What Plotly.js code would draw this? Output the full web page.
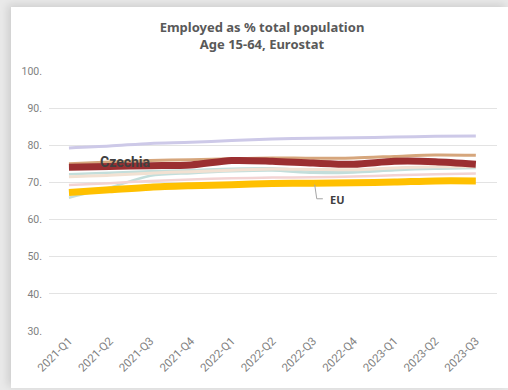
<!DOCTYPE html>
<html><head><meta charset="utf-8">
<script src="https://cdn.plot.ly/plotly-3.0.1.min.js"></script>
<style>
html,body{margin:0;padding:0;background:#e9e9e9;width:508px;height:390px;overflow:hidden;}
#card{position:absolute;left:11px;top:7px;width:497px;height:381px;background:#fff;box-shadow:-3px -2px 8px rgba(0,0,0,0.12);}
#plot{width:497px;height:381px;}
</style></head><body>
<div id="card"><div id="plot"></div></div>
<script>
const quarters = ["2021-Q1","2021-Q2","2021-Q3","2021-Q4","2022-Q1","2022-Q2","2022-Q3","2022-Q4","2023-Q1","2023-Q2","2023-Q3"];
const lavender = [79.3,79.8,80.5,80.8,81.3,81.7,81.9,82.0,82.2,82.4,82.5];
const tan      = [75.0,75.5,75.9,76.1,76.4,76.6,76.5,76.6,77.0,77.4,77.3];
const teal1    = [72.2,72.6,73.0,73.3,73.7,73.8,73.1,72.9,73.8,74.1,74.2];
const teal2    = [65.9,68.6,71.8,72.5,73.0,73.2,72.6,72.7,73.3,73.7,73.9];
const beige    = [71.5,71.9,72.5,72.9,73.3,73.6,73.5,73.4,73.9,74.2,74.2];
const pink     = [69.3,69.8,70.4,70.8,71.1,71.3,71.4,71.6,71.9,72.2,72.4];
const eu       = [67.3,68.0,68.7,69.1,69.4,69.7,69.8,69.9,70.1,70.4,70.4];
const czechia  = [74.1,74.3,74.5,74.7,75.9,75.7,75.2,74.9,75.7,75.6,74.9];
const yTicks = [30,40,50,60,70,80,90,100];

function tr(y, color, width, name){
  return {x: quarters, y: y, type:'scatter', mode:'lines', name: name,
    line:{color: color, width: width, shape:'spline', smoothing:0.8}, hoverinfo:'skip'};
}
const data = [
  tr(lavender,'#cdc9e8',3,'A'),
  tr(teal2,'#c3dedb',2.5,'B'),
  tr(teal1,'#c3dedb',2.5,'C'),
  tr(beige,'#f2e1d2',3,'D'),
  tr(pink,'#f3d3d3',2.5,'E'),
  tr(tan,'#d6a67c',3,'F'),
  tr(eu,'#ffc000',7,'EU'),
  tr(czechia,'#9b2f31',7,'Czechia')
];
const layout = {
  width:497, height:381,
  margin:{l:38,r:11,t:64,b:57},
  paper_bgcolor:'#fff', plot_bgcolor:'#fff',
  showlegend:false,
  title:{text:'<b>Employed as % total population</b><br><b>Age 15-64, Eurostat</b>',
    font:{family:'Noto Sans, Open Sans, sans-serif', size:13, color:'#595959'},
    x:0.505, xanchor:'center', y:0.935, yanchor:'top'},
  xaxis:{type:'category', range:[-0.49,10.52], showgrid:false, zeroline:false, showline:false,
    tickangle:-45, ticks:'', tickfont:{family:'Roboto, sans-serif', size:11.5, color:'#7f7f7f'}},
  yaxis:{range:[30,100], tickvals:yTicks, ticktext:yTicks.map(v=>v+'.'), showgrid:true, gridcolor:'#e3e3e3', gridwidth:1,
    zeroline:false, showline:false, ticks:'', ticklabelstandoff:6,
    tickfont:{family:'Roboto, sans-serif', size:10.5, color:'#7f7f7f'}},
  annotations:[
    {x:1.4, y:75.6, xref:'x', yref:'y', text:'<b>Czechia</b>', showarrow:false,
     font:{family:'Roboto, sans-serif', size:14, color:'#404040'}},
    {x:6.36, y:65.5, xref:'x', yref:'y', text:'<b>EU</b>', showarrow:false, xanchor:'left',
     font:{family:'Noto Sans, sans-serif', size:11, color:'#404040'}}
  ],
  shapes:[
    {type:'path', xref:'x', yref:'y', path:'M 6.04 69.4 L 6.09 65.6 L 6.24 65.6', line:{color:'#a6a6a6', width:1}}
  ]
};
Plotly.newPlot('plot', data, layout, {staticPlot:true});
</script>
</body></html>
